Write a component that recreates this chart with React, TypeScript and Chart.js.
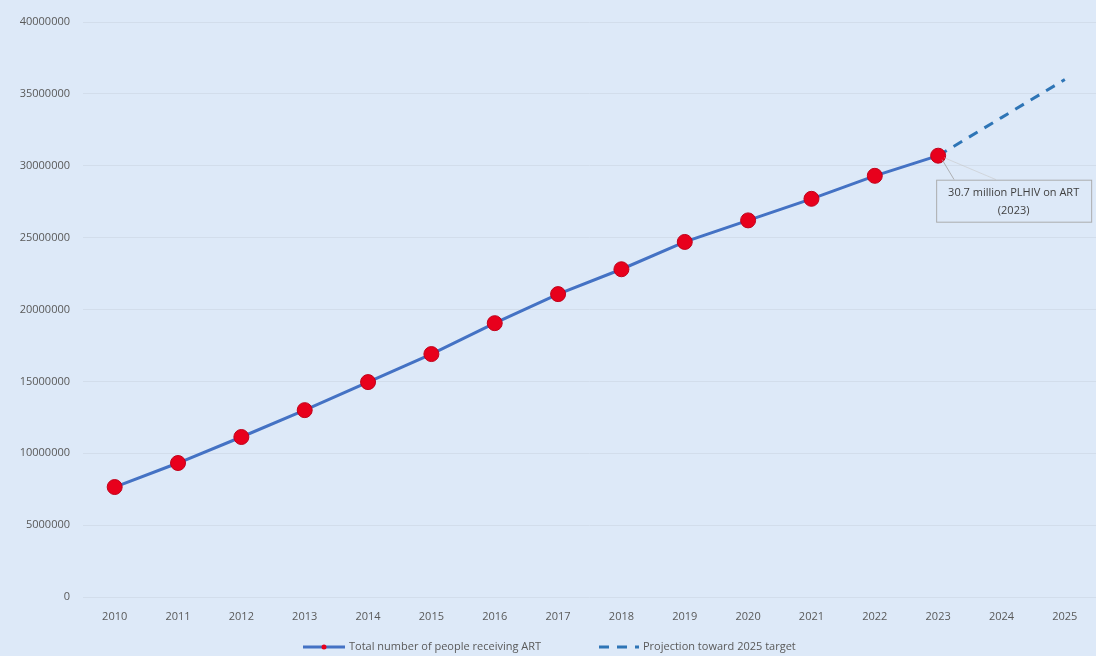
import React, { useEffect, useRef } from "react";
import { Chart, registerables } from "chart.js";

Chart.register(...registerables);

const years = ["2010", "2011", "2012", "2013", "2014", "2015", "2016", "2017", "2018", "2019", "2020", "2021", "2022", "2023", "2024", "2025"];
const artValues = [7650000, 9320000, 11130000, 13000000, 14950000, 16900000, 19050000, 21070000, 22800000, 24700000, 26200000, 27700000, 29300000, 30700000, null, null];
const projectionValues = [null, null, null, null, null, null, null, null, null, null, null, null, null, 30700000, 33350000, 36000000];
const yTickValues = [0, 5000000, 10000000, 15000000, 20000000, 25000000, 30000000, 35000000, 40000000];
const legendLabels = ["Total number of people receiving ART", "Projection toward 2025 target"];
const annotationLines = ["30.7 million PLHIV on ART", "(2023)"];

const FONT = "'Open Sans', 'Noto Sans', sans-serif";
const BG = "#dde9f8";
const LINE_BLUE = "#4472c4";
const DASH_BLUE = "#2e75b6";
const TEXT_GREY = "#595959";

const calloutPlugin = {
  id: "callout",
  afterDatasetsDraw(chart: any) {
    const meta = chart.getDatasetMeta(0);
    const pt = meta.data[13];
    if (!pt) return;
    const ctx = chart.ctx;
    const px = pt.x;
    const py = pt.y;
    const bx = px - 2;
    const by = py + 24;
    const bw = 155;
    const bh = 42;
    ctx.save();
    ctx.strokeStyle = "rgba(160,160,160,0.8)";
    ctx.lineWidth = 1;
    ctx.beginPath();
    ctx.moveTo(px + 4, py + 4);
    ctx.lineTo(bx + 18, by);
    ctx.stroke();
    ctx.strokeStyle = "rgba(200,200,200,0.6)";
    ctx.beginPath();
    ctx.moveTo(px + 6, py + 2);
    ctx.lineTo(bx + 60, by);
    ctx.stroke();
    ctx.fillStyle = BG;
    ctx.fillRect(bx, by, bw, bh);
    ctx.strokeStyle = "rgba(165,165,165,0.9)";
    ctx.strokeRect(bx + 0.5, by + 0.5, bw, bh);
    ctx.fillStyle = "#404040";
    ctx.font = `11px ${FONT}`;
    ctx.textAlign = "center";
    ctx.textBaseline = "middle";
    ctx.fillText(annotationLines[0], bx + bw / 2, by + 13);
    ctx.fillText(annotationLines[1], bx + bw / 2, by + 31);
    ctx.restore();
  },
};

const legendPlugin = {
  id: "customLegend",
  afterDraw(chart: any) {
    const ctx = chart.ctx;
    const y = 647;
    ctx.save();
    ctx.font = `11px ${FONT}`;
    ctx.textBaseline = "middle";
    ctx.textAlign = "left";
    ctx.strokeStyle = LINE_BLUE;
    ctx.lineWidth = 3;
    ctx.setLineDash([]);
    ctx.beginPath();
    ctx.moveTo(303, y);
    ctx.lineTo(345, y);
    ctx.stroke();
    ctx.fillStyle = "#e8001c";
    ctx.beginPath();
    ctx.arc(324, y, 2.5, 0, Math.PI * 2);
    ctx.fill();
    ctx.fillStyle = TEXT_GREY;
    ctx.fillText(legendLabels[0], 349, y);
    ctx.strokeStyle = DASH_BLUE;
    ctx.lineWidth = 3;
    ctx.setLineDash([10, 8]);
    ctx.beginPath();
    ctx.moveTo(599, y);
    ctx.lineTo(639, y);
    ctx.stroke();
    ctx.setLineDash([]);
    ctx.fillStyle = TEXT_GREY;
    ctx.fillText(legendLabels[1], 643, y);
    ctx.restore();
  },
};

export default function App() {
  const ref = useRef<HTMLCanvasElement>(null);
  useEffect(() => {
    document.body.style.margin = "0";
    document.body.style.background = BG;
    if (!ref.current) return;
    const chart = new Chart(ref.current, {
      type: "line",
      data: {
        labels: years,
        datasets: [
          {
            label: legendLabels[0],
            data: artValues,
            borderColor: LINE_BLUE,
            borderWidth: 3,
            tension: 0,
            pointRadius: 7.5,
            pointBackgroundColor: "#e8001c",
            pointBorderColor: "#c0001a",
            pointBorderWidth: 1,
            spanGaps: false,
            order: 1,
          },
          {
            label: legendLabels[1],
            data: projectionValues,
            borderColor: DASH_BLUE,
            borderWidth: 3,
            borderDash: [10, 8],
            tension: 0,
            pointRadius: 0,
            order: 2,
          },
        ],
      },
      options: {
        responsive: false,
        animation: false,
        layout: { padding: { top: 22, right: 0, left: 0, bottom: 0 } },
        plugins: {
          legend: { display: false },
          tooltip: { enabled: false },
        },
        scales: {
          x: {
            offset: true,
            grid: { display: false, drawTicks: false },
            border: { display: false },
            ticks: { color: TEXT_GREY, font: { family: FONT, size: 11 }, padding: 13, maxRotation: 0 },
            afterFit(scale: any) {
              scale.height = 59;
            },
          },
          y: {
            min: 0,
            max: 40000000,
            afterBuildTicks(scale: any) {
              scale.ticks = yTickValues.map((v) => ({ value: v }));
            },
            grid: { color: "#d2ddeb", lineWidth: 1, drawTicks: false },
            border: { display: false },
            ticks: {
              color: TEXT_GREY,
              font: { family: FONT, size: 11 },
              padding: 13,
              callback: (v: any) => String(v),
            },
            afterFit(scale: any) {
              scale.width = 83;
            },
          },
        },
      },
      plugins: [calloutPlugin, legendPlugin],
    });
    return () => chart.destroy();
  }, []);
  return (
    <div style={{ width: 1096, height: 656, background: BG, overflow: "hidden" }}>
      <canvas ref={ref} width={1105} height={656} style={{ display: "block" }} />
    </div>
  );
}
